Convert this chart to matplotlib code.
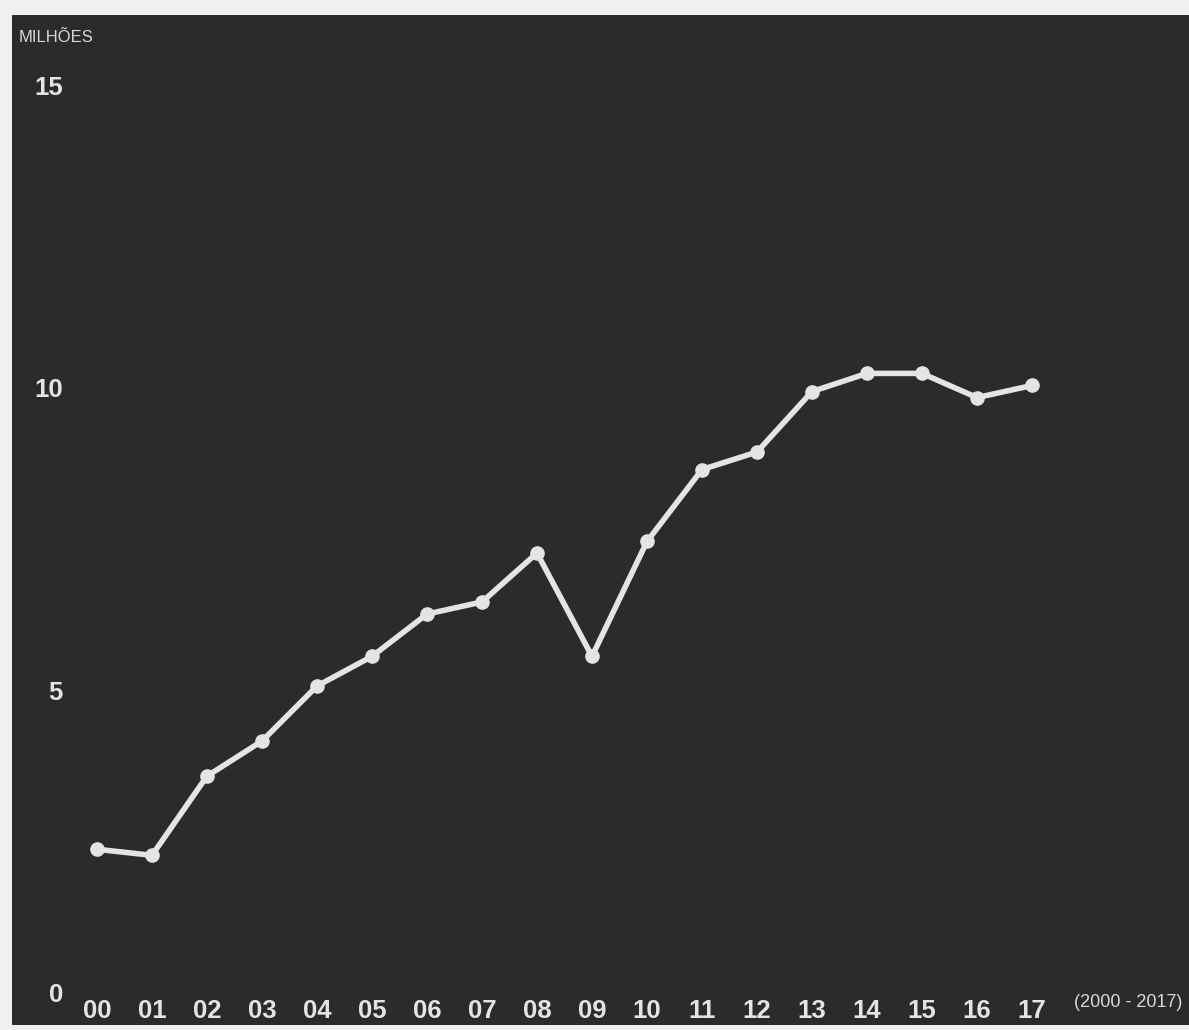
import matplotlib.pyplot as plt

# yearly values, millions
years = ["00", "01", "02", "03", "04", "05", "06", "07", "08",
         "09", "10", "11", "12", "13", "14", "15", "16", "17"]
values = [2.41, 2.31, 3.62, 4.20, 5.11, 5.60, 6.30, 6.50, 7.31,
          5.60, 7.50, 8.69, 8.98, 9.98, 10.28, 10.28, 9.88, 10.08]
y_ticks = [0, 5, 10, 15]

BOARD = "#2b2b2b"
CHALK = "#e4e4e4"
FONT = ["Liberation Sans Narrow", "Liberation Sans", "DejaVu Sans"]

W, H = 1189, 1030
fig = plt.figure(figsize=(W / 100, H / 100), dpi=100)
fig.patch.set_facecolor("#eef0f2")

# board panel, pixel box (12, 15) - (1189, 1025)
ax = fig.add_axes([12 / W, 5 / H, (W - 12) / W, (1025 - 15) / H])
ax.set_facecolor(BOARD)
for s in ax.spines.values():
    s.set_visible(False)
ax.set_xticks([])
ax.set_yticks([])

x = list(range(len(years)))
ax.plot(x, values, color=CHALK, lw=4, solid_capstyle="round",
        solid_joinstyle="round", marker="o", ms=9.5, mfc=CHALK, mec=CHALK,
        zorder=3)

ax.set_xlim(-1.5455, 19.8545)
ax.set_ylim(-0.496, 16.207)

for xi, lab in zip(x, years):
    ax.text(xi, -0.27, lab, ha="center", va="center", color=CHALK,
            fontsize=18.5, fontweight="bold", family=FONT)

for yt in y_ticks:
    ax.text(-0.62, yt, str(yt), ha="right", va="center", color=CHALK,
            fontsize=18.5, fontweight="bold", family=FONT)

ax.text(18.75, -0.12, "(2000 - 2017)", ha="center", va="center",
        color="#d8d8d8", fontsize=13, family=FONT)

fig.text(19 / W, 1 - 37 / H, "MILHÕES", ha="left", va="center",
         color="#d8d8d8", fontsize=12, family=FONT)

fig.savefig("out.png", dpi=100, facecolor=fig.get_facecolor())
